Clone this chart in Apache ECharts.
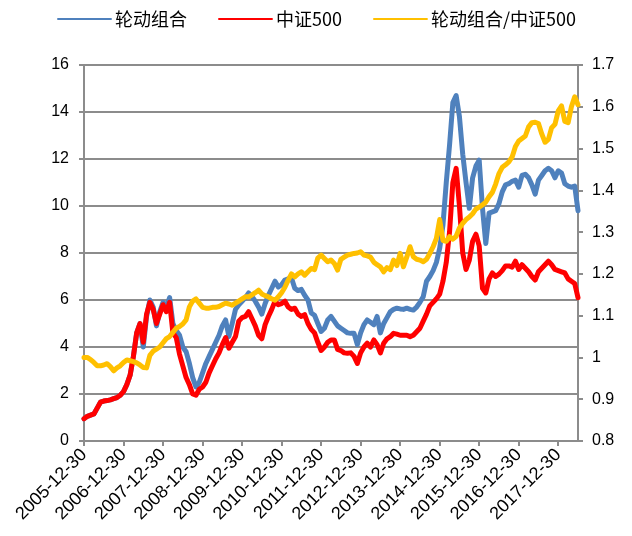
<!DOCTYPE html>
<html>
<head>
<meta charset="utf-8">
<script src="https://cdn.jsdelivr.net/npm/echarts@6/dist/echarts.min.js"></script>
<style>html,body{margin:0;padding:0;background:#fff;}#c{width:632px;height:536px;}</style>
</head>
<body>
<div id="c"></div>
<script>
// Series names
const seriesNames = ['轮动组合', '中证500', '轮动组合/中证500'];

// Monthly categories 2005-12 .. 2018-06 (151 points)
const startYear = 2005, startMonth = 12, nPoints = 151;
const categories = [];
for (let k = 0; k < nPoints; k++) {
  const m0 = startMonth - 1 + k;
  const y = startYear + Math.floor(m0 / 12);
  const m = (m0 % 12) + 1;
  categories.push(y + '-' + String(m).padStart(2, '0') + '-30');
}

// Tick labels shown on the x axis
const xTickLabels = ['2005-12-30','2006-12-30','2007-12-30','2008-12-30','2009-12-30','2010-12-30','2011-12-30','2012-12-30','2013-12-30','2014-12-30','2015-12-30','2016-12-30','2017-12-30'];
const leftTicks = [0, 2, 4, 6, 8, 10, 12, 14, 16];
const rightTicks = [0.8, 0.9, 1.0, 1.1, 1.2, 1.3, 1.4, 1.5, 1.6, 1.7];

// 轮动组合 (left axis)
const rotation = [
  0.95,1.05,1.1,1.15,1.4,1.65,1.7,1.72,1.75,1.8,1.85,1.95,
  2.1,2.4,2.8,3.6,4.6,5.0,4.0,5.3,6.0,5.7,4.9,5.5,
  5.9,5.7,6.1,5.0,4.7,4.5,4.0,3.8,3.3,2.7,2.3,2.5,
  2.9,3.3,3.6,3.9,4.2,4.5,4.9,5.15,4.45,5.0,5.6,5.8,
  5.95,6.1,6.3,6.15,5.95,5.7,5.4,5.85,6.2,6.5,6.8,6.55,
  6.65,6.85,6.9,6.94,6.5,6.4,6.45,6.2,6.0,5.45,5.35,5.0,
  4.66,4.8,5.15,5.3,5.1,4.9,4.8,4.7,4.6,4.58,4.58,4.1,
  4.6,4.95,5.15,5.05,4.95,5.3,4.6,5.0,5.25,5.5,5.6,5.65,
  5.62,5.6,5.65,5.6,5.57,5.7,5.9,6.14,6.8,7.0,7.25,7.6,
  8.2,9.2,11.0,12.6,14.4,14.7,13.8,12.2,11.0,9.9,11.2,11.7,
  11.95,9.9,8.4,9.7,9.75,9.8,10.1,10.6,10.9,10.95,11.05,11.1,
  10.8,11.3,11.35,11.2,10.9,10.5,11.1,11.3,11.5,11.6,11.5,11.2,
  11.5,11.4,10.95,10.85,10.8,10.85,9.8
];

// 中证500 (left axis)
const csi500 = [
  0.95,1.05,1.1,1.15,1.4,1.65,1.7,1.72,1.75,1.8,1.85,1.95,
  2.1,2.4,2.8,3.6,4.6,5.0,4.2,5.4,5.9,5.6,5.0,5.4,
  5.8,5.5,5.9,4.6,4.4,3.7,3.2,2.7,2.4,2.0,1.95,2.2,
  2.3,2.5,2.9,3.2,3.5,3.75,4.1,4.4,3.95,4.2,4.45,5.1,
  5.25,5.3,5.5,5.2,4.9,4.5,4.35,4.95,5.3,5.6,5.95,5.8,
  5.85,5.95,5.7,5.6,5.65,5.4,5.3,5.38,5.0,4.75,4.6,4.2,
  3.85,4.0,4.2,4.3,4.3,3.9,3.85,3.75,3.73,3.75,3.6,3.3,
  3.75,4.0,4.16,4.0,4.3,4.1,3.75,4.16,4.35,4.44,4.58,4.55,
  4.5,4.5,4.5,4.44,4.5,4.65,4.8,5.1,5.4,5.75,5.9,6.05,
  6.25,6.8,7.6,8.9,11.0,11.6,10.0,8.0,7.3,7.7,8.5,8.8,
  8.3,6.5,6.3,6.9,7.15,7.0,7.1,7.25,7.45,7.45,7.4,7.65,
  7.3,7.5,7.35,7.2,7.0,6.85,7.2,7.35,7.5,7.65,7.5,7.3,
  7.25,7.2,7.15,6.9,6.8,6.7,6.1
];

// 轮动组合/中证500 (right axis)
const ratio = [
  1.0,1.0,0.995,0.988,0.98,0.98,0.982,0.985,0.978,0.968,0.975,0.98,
  0.988,0.994,0.992,0.99,0.987,0.982,0.976,0.975,1.005,1.015,1.02,1.025,
  1.035,1.045,1.05,1.06,1.07,1.074,1.08,1.09,1.121,1.135,1.14,1.13,
  1.12,1.118,1.118,1.12,1.12,1.122,1.126,1.13,1.128,1.125,1.13,1.135,
  1.14,1.145,1.145,1.15,1.155,1.161,1.152,1.148,1.145,1.14,1.137,1.145,
  1.155,1.168,1.185,1.2,1.193,1.2,1.205,1.197,1.205,1.213,1.21,1.238,
  1.245,1.237,1.229,1.233,1.225,1.209,1.235,1.24,1.245,1.247,1.249,1.25,
  1.253,1.245,1.243,1.24,1.228,1.222,1.217,1.205,1.215,1.21,1.233,1.22,
  1.249,1.217,1.24,1.265,1.241,1.235,1.233,1.229,1.235,1.249,1.265,1.285,
  1.33,1.28,1.278,1.289,1.283,1.29,1.31,1.321,1.33,1.336,1.344,1.355,
  1.36,1.365,1.372,1.385,1.395,1.415,1.44,1.455,1.461,1.468,1.48,1.505,
  1.518,1.524,1.53,1.552,1.562,1.563,1.56,1.535,1.515,1.522,1.55,1.558,
  1.59,1.602,1.565,1.562,1.6,1.624,1.605
];

const colors = ['#4F81BD', '#FF0000', '#FFC000'];
const gridGray = '#8C8C8C';
const fontFam = '"Liberation Sans", Arial, "Noto Sans CJK SC", sans-serif';
const legendFont = '"Noto Sans CJK SC", "Liberation Sans", sans-serif';

const chart = echarts.init(document.getElementById('c'), null, { renderer: 'canvas' });
const lineIcon = 'path://M2,0 L98,0 A2,2 0 0 1 98,4 L2,4 A2,2 0 0 1 2,0 Z';

chart.setOption({
  animation: false,
  backgroundColor: '#ffffff',
  color: colors,
  legend: {
    top: 5,
    left: 52,
    itemWidth: 55,
    itemHeight: 5,
    itemGap: 31,
    icon: lineIcon,
    textStyle: { fontSize: 18, color: '#000', fontFamily: legendFont, padding: [0, 0, 0, -2] },
    data: seriesNames
  },
  grid: { left: 84, right: 54, top: 65, bottom: 95, containLabel: false },
  xAxis: {
    type: 'category',
    data: categories,
    boundaryGap: false,
    axisLine: { lineStyle: { color: gridGray, width: 2 } },
    axisTick: {
      show: true, length: 5, inside: false,
      interval: function (idx, val) { return xTickLabels.indexOf(val) >= 0 || idx === 0; },
      lineStyle: { color: gridGray, width: 2 }
    },
    axisLabel: {
      interval: function (idx, val) { return xTickLabels.indexOf(val) >= 0; },
      rotate: 45,
      margin: 11,
      fontSize: 18,
      color: '#000',
      fontFamily: fontFam
    },
    splitLine: { show: false }
  },
  yAxis: [
    {
      type: 'value', min: leftTicks[0], max: leftTicks[leftTicks.length - 1], interval: 2,
      position: 'left',
      axisLine: { show: true, lineStyle: { color: gridGray, width: 2 } },
      axisTick: { show: true, length: 5, lineStyle: { color: gridGray, width: 2 } },
      axisLabel: { margin: 15, fontSize: 16, color: '#000', fontFamily: fontFam },
      splitLine: { show: true, lineStyle: { color: gridGray, width: 2 } }
    },
    {
      type: 'value', min: rightTicks[0], max: rightTicks[rightTicks.length - 1], interval: 0.1,
      position: 'right',
      axisLine: { show: true, lineStyle: { color: gridGray, width: 2 } },
      axisTick: { show: true, length: 5, lineStyle: { color: gridGray, width: 2 } },
      axisLabel: {
        margin: 14, fontSize: 16, color: '#000', fontFamily: fontFam,
        formatter: function (v) { return String(parseFloat(v.toFixed(1))); }
      },
      splitLine: { show: false }
    }
  ],
  series: [
    { name: seriesNames[0], type: 'line', yAxisIndex: 0, data: rotation, showSymbol: false, symbol: 'none',
      lineStyle: { width: 5, color: colors[0], join: 'round', cap: 'round' }, z: 2 },
    { name: seriesNames[1], type: 'line', yAxisIndex: 0, data: csi500, showSymbol: false, symbol: 'none',
      lineStyle: { width: 5, color: colors[1], join: 'round', cap: 'round' }, z: 3 },
    { name: seriesNames[2], type: 'line', yAxisIndex: 1, data: ratio, showSymbol: false, symbol: 'none',
      lineStyle: { width: 5, color: colors[2], join: 'round', cap: 'round' }, z: 4 }
  ]
});
</script>
</body>
</html>
